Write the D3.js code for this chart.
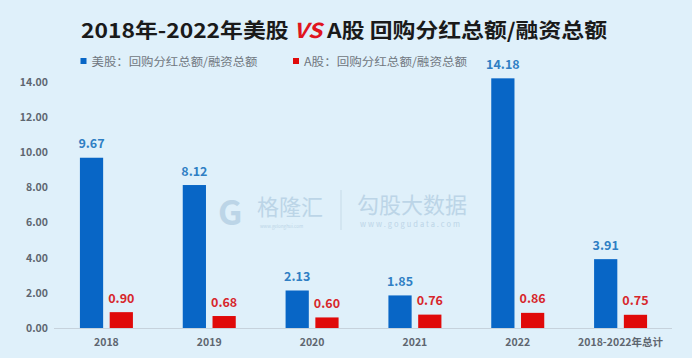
<!DOCTYPE html>
<html><head><meta charset="utf-8">
<script src="https://cdn.jsdelivr.net/npm/d3@7"></script>
<style>
html,body{margin:0;padding:0;background:#dff0fa;}
svg{display:block;font-family:"Noto Sans CJK SC","Noto Sans",sans-serif;}
</style></head>
<body>
<script>
const categories = ["2018","2019","2020","2021","2022","2018-2022年总计"];
const usValues = [9.67, 8.12, 2.13, 1.85, 14.18, 3.91];
const aValues = [0.90, 0.68, 0.60, 0.76, 0.86, 0.75];
const seriesNames = ["美股：回购分红总额/融资总额", "A股：回购分红总额/融资总额"];
const yTicks = [0, 2, 4, 6, 8, 10, 12, 14];

const W = 692, H = 358;
const blue = "#0866c6", red = "#e00a0a";
const svg = d3.select("body").append("svg").attr("width", W).attr("height", H);
svg.append("rect").attr("width", W).attr("height", H).attr("fill", "#dff0fa");

// title
const title = svg.append("text").attr("x", 81).attr("y", 38)
  .attr("font-size", 20.5).attr("font-weight", "bold").attr("fill", "#1a1a1a")
  .attr("textLength", 526).attr("lengthAdjust", "spacingAndGlyphs");
title.append("tspan").text("2018年-2022年美股 ");
title.append("tspan").text("VS").attr("fill", "#e0141e").attr("font-style", "italic");
title.append("tspan").text(" A股 回购分红总额/融资总额");

// legend
const legend = svg.append("g").attr("font-size", 11.5);
[[80.5, blue, seriesNames[0], 166], [293, red, seriesNames[1], 163]].forEach(([x, c, t, len]) => {
  legend.append("rect").attr("x", x).attr("y", 58).attr("width", 6).attr("height", 6).attr("fill", c);
  legend.append("text").attr("x", x + 11).attr("y", 66).text(t).attr("fill", "#707780")
    .attr("textLength", len).attr("lengthAdjust", "spacingAndGlyphs");
});

// watermark
const wm = svg.append("g").attr("fill", "#b9d3e6").attr("opacity", 0.9);
wm.append("text").attr("x", 218).attr("y", 225).attr("font-size", 34).attr("font-weight", "bold").text("G");
wm.append("text").attr("x", 257).attr("y", 215).attr("font-size", 22).text("格隆汇");
wm.append("text").attr("x", 260).attr("y", 228).attr("font-size", 4.5).text("www.gelonghui.com");
wm.append("line").attr("x1", 341).attr("x2", 341).attr("y1", 190).attr("y2", 230).attr("stroke", "#c4d9e8");
wm.append("text").attr("x", 357).attr("y", 213).attr("font-size", 22).text("勾股大数据");
wm.append("text").attr("x", 360).attr("y", 227).attr("font-size", 7.5).attr("letter-spacing", 2).text("www.gogudata.com");

// scales
const x0 = d3.scaleBand().domain(categories).range([55, 672]).padding(0);
const x1 = d3.scaleBand().domain([0, 1]).range([0, 53]).paddingInner(0.22);
const y = d3.scaleLinear().domain([0, 14]).range([328, 81.5]);

// y axis labels
svg.append("g").selectAll("text").data(yTicks).join("text")
  .attr("x", 48).attr("y", d => y(d) + 4).attr("text-anchor", "end")
  .attr("font-size", 10.5).attr("font-weight", "bold").attr("fill", "#5e6670")
  .text(d => d3.format(".2f")(d));

// baseline
svg.append("line").attr("x1", 54).attr("x2", 672).attr("y1", y(0) + 0.5).attr("y2", y(0) + 0.5)
  .attr("stroke", "#c6d2dc").attr("stroke-width", 1);

const groups = svg.append("g").selectAll("g").data(categories).join("g")
  .attr("transform", d => `translate(${x0(d) + x0.bandwidth() / 2 - 26.5},0)`);

groups.each(function (c, i) {
  const g = d3.select(this);
  [[usValues[i], blue, 0, "#2f7fc4"], [aValues[i], red, 1, "#d7262b"]].forEach(([v, col, s, lc]) => {
    g.append("rect").attr("x", x1(s)).attr("y", y(v)).attr("width", x1.bandwidth())
      .attr("height", y(0) - y(v)).attr("fill", col);
    g.append("text").attr("x", x1(s) + x1.bandwidth() / 2).attr("y", y(v) - 9.5)
      .attr("text-anchor", "middle").attr("font-size", 12.5).attr("font-weight", "bold")
      .attr("fill", lc).text(d3.format(".2f")(v));
  });
});

// category labels
svg.append("g").selectAll("text").data(categories).join("text")
  .attr("x", d => x0(d) + x0.bandwidth() / 2).attr("y", 346).attr("text-anchor", "middle")
  .attr("font-size", 10.5).attr("font-weight", "bold").attr("fill", "#5e6670").text(d => d);
</script>
</body></html>
